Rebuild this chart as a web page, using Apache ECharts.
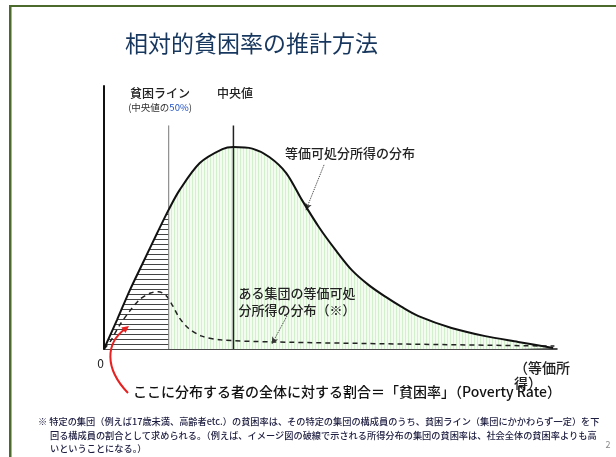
<!DOCTYPE html>
<html><head><meta charset="utf-8">
<script src="https://cdn.jsdelivr.net/npm/echarts@6/dist/echarts.min.js"></script>
<style>html,body{margin:0;padding:0;background:#fff;}#c{width:616px;height:457px;}</style>
</head><body><div id="c"></div>
<script>
// ---- data (income relative to median = 100) ----
const povertyLine = 50;
const median = 100;
const refLineTop = 85;
const incomeDist = [[0,0],[10,11],[20,22.4],[30,32.7],[41,44],[50,53],[58.5,60.5],[74,70.7],[91.5,76],[100,76.8],[114.6,76.2],[127.7,73],[140.8,66.9],[153,56.6],[166,46.4],[179,37.6],[191.5,30],[204.6,24.3],[217.7,19.8],[230,16],[243,12.5],[268.5,8],[294.6,4.9],[320,2.7],[347,0.4]];
const groupDist = [[0,0],[5,3],[12,9],[20,14.5],[28,19],[36,21.3],[42,21.8],[48,20.3],[53,16.5],[58,12],[65,8],[75,5],[90,3.5],[130,2.7],[230,1.9],[348,1.1]];
const arrowMain = [[170,70],[156,52.8]];
const arrowGroup = [[141.3,12.5],[129.7,1.9]];
const xTickLabels = ['0'];

function makePattern(w,h,draw){const c=document.createElement('canvas');c.width=w;c.height=h;const g=c.getContext('2d');draw(g);return c;}
const hatch = makePattern(10,5,g=>{g.fillStyle='#ffffff';g.fillRect(0,0,10,5);g.fillStyle='#444';g.fillRect(0,4,10,1);});
const green = makePattern(3,4,g=>{g.fillStyle='#f4fcf2';g.fillRect(0,0,3,4);g.fillStyle='#d0f1c9';g.fillRect(0,0,1,4);});

const FONT = '"Noto Sans CJK JP","Noto Sans",sans-serif';
const chart = echarts.init(document.getElementById('c'));
const smooth = 0.3;
const T = (x,y,text,size,extra)=>Object.assign({type:'text',x:x,y:y,z:100,style:Object.assign({text:text,font:'500 '+size+'px '+FONT,fill:'#222',verticalAlign:'middle'},extra||{})});
chart.setOption({
  animation:false,
  backgroundColor:'#ffffff',
  grid:{left:104,top:86,width:453,height:263},
  xAxis:{type:'value',min:0,max:350,axisLine:{lineStyle:{color:'#111',width:1.5}},axisTick:{show:false},splitLine:{show:false},
    axisLabel:{show:true,formatter:v=>v===0?xTickLabels[0]:'',margin:8,color:'#222',fontSize:12,fontFamily:FONT,align:'right'}},
  yAxis:{type:'value',min:0,max:100,axisLine:{show:true,lineStyle:{color:'#111',width:2}},axisTick:{show:false},axisLabel:{show:false},splitLine:{show:false}},
  series:[
    {type:'line',data:incomeDist.filter(p=>p[0]<=povertyLine),smooth:smooth,showSymbol:false,lineStyle:{width:0},areaStyle:{color:{image:hatch,repeat:'repeat'},opacity:1},z:1},
    {type:'line',data:incomeDist.filter(p=>p[0]>=povertyLine),smooth:smooth,showSymbol:false,lineStyle:{width:0},areaStyle:{color:{image:green,repeat:'repeat'},opacity:1},z:1},
    {type:'line',data:groupDist,smooth:smooth,showSymbol:false,lineStyle:{color:'#222',width:1.5,type:[5,4]},z:3,
      markLine:{silent:true,symbol:['none','arrow'],symbolSize:[5,7],label:{show:false},lineStyle:{type:'dotted',color:'#333',width:1},
        data:[[{coord:arrowMain[0]},{coord:arrowMain[1]}],[{coord:arrowGroup[0]},{coord:arrowGroup[1]}]]}},
    {type:'line',data:[[povertyLine,0],[povertyLine,refLineTop]],showSymbol:false,lineStyle:{color:'#777',width:1},z:4},
    {type:'line',data:[[median,0],[median,refLineTop]],showSymbol:false,lineStyle:{color:'#222',width:1.5},z:4},
    {type:'line',data:incomeDist,smooth:smooth,showSymbol:false,lineStyle:{color:'#111',width:2},z:5}
  ],
  graphic:[
    {type:'rect',z:100,shape:{x:9,y:5,width:620,height:2},style:{fill:'#4b6a2c'}},
    {type:'rect',z:100,shape:{x:9,y:5,width:2.5,height:460},style:{fill:'#4b6a2c'}},
    T(125,43,'相対的貧困率の推計方法',23,{fill:'#17375e',font:'23px '+FONT}),
    T(160,93,'貧困ライン',12,{align:'center'}),
    {type:'text',x:160,y:107,z:100,style:{text:'{a|(中央値の}{b|50%}{a|)}',align:'center',verticalAlign:'middle',
      rich:{a:{font:'9.5px '+FONT,fill:'#333'},b:{font:'9.5px '+FONT,fill:'#2050c0'}}}},
    T(235,93,'中央値',12,{align:'center'}),
    T(350,153,'等価可処分所得の分布',13,{align:'center'}),
    T(297,293,'ある集団の等価可処',13,{align:'center'}),
    T(297,310,'分所得の分布（※）',13,{align:'center'}),
    T(514,368,'（等価所',14),
    T(514,383,'得）',14),
    T(133,392,'ここに分布する者の全体に対する割合＝「貧困率」（Poverty Rate）',14,{fill:'#111'}),
    {type:'bezierCurve',z:100,shape:{x1:128,y1:393,cpx1:104,cpy1:368,cpx2:106,cpy2:343,x2:125,y2:329},style:{stroke:'#e82020',lineWidth:2,fill:null}},
    {type:'polygon',z:100,shape:{points:[[129,326],[125.5,333],[121.3,327.4]]},style:{fill:'#e82020'}},
    T(38,422,'※ 特定の集団（例えば17歳未満、高齢者etc.）の貧困率は、その特定の集団の構成員のうち、貧困ライン（集団にかかわらず一定）を下',9.2,{fill:'#1c1c40'}),
    T(50,436,'回る構成員の割合として求められる。（例えば、イメージ図の破線で示される所得分布の集団の貧困率は、社会全体の貧困率よりも高',9.2,{fill:'#1c1c40'}),
    T(50,449,'いということになる。）',9.2,{fill:'#1c1c40'}),
    T(608,445,'2',9,{fill:'#888',align:'center',font:'9px '+FONT})
  ]
});
</script></body></html>
